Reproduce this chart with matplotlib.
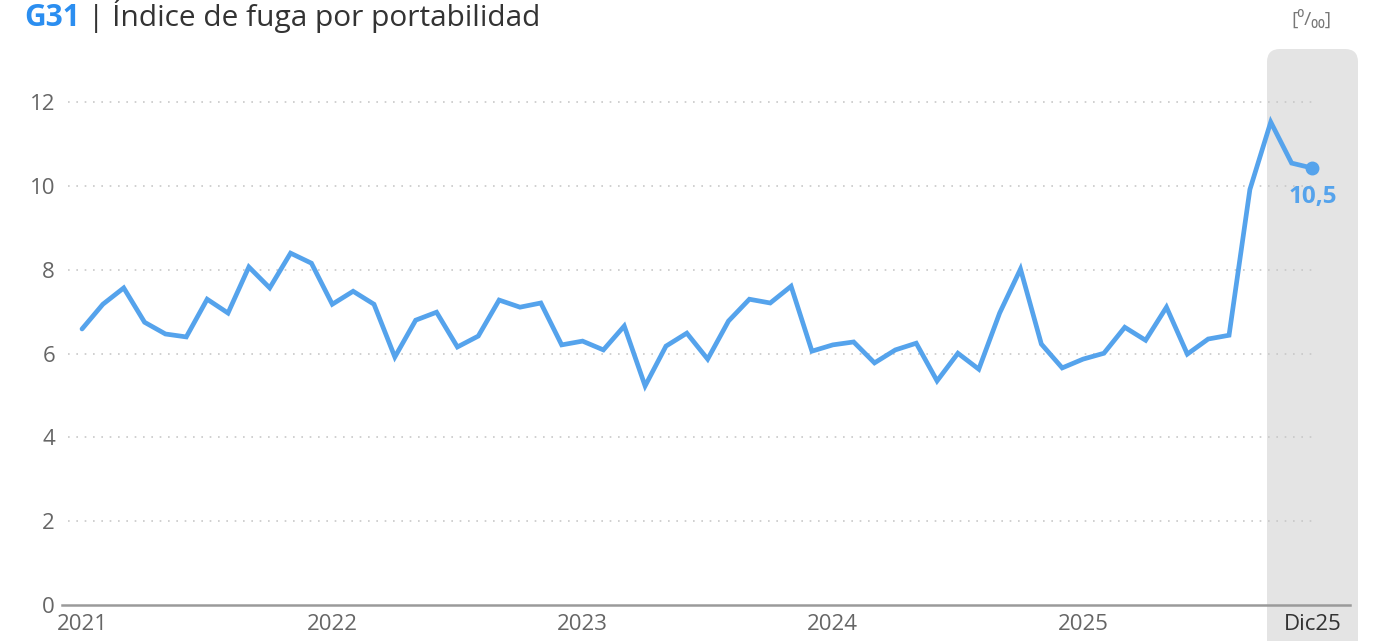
import matplotlib
matplotlib.use("Agg")
import matplotlib.pyplot as plt
from matplotlib.patches import FancyBboxPatch
from matplotlib.transforms import IdentityTransform

# ---- data ----
values = [6.59, 7.18, 7.57, 6.75, 6.47, 6.40, 7.30, 6.97, 8.07, 7.57, 8.40, 8.16,
          7.18, 7.49, 7.18, 5.92, 6.80, 6.99, 6.16, 6.42, 7.28, 7.11, 7.21, 6.21,
          6.30, 6.09, 6.66, 5.23, 6.18, 6.49, 5.87, 6.78, 7.30, 7.21, 7.61, 6.06,
          6.21, 6.28, 5.78, 6.09, 6.25, 5.35, 6.01, 5.63, 6.97, 8.02, 6.23, 5.66,
          5.87, 6.01, 6.63, 6.32, 7.11, 5.99, 6.35, 6.44, 9.92, 11.53, 10.55, 10.43]
xtick_pos = [0, 12, 24, 36, 48, 59]
xtick_labels = ["2021", "2022", "2023", "2024", "2025", "Dic25"]
ytick_vals = [0, 2, 4, 6, 8, 10, 12]
last_label = "10,5"
title_code = "G31"
title_text = "| Índice de fuga por portabilidad"
unit_text = "[⁰/₀₀]"

W, H = 1376, 641
plt.rcParams['font.family'] = ['Open Sans', 'DejaVu Sans']
fig = plt.figure(figsize=(W / 100, H / 100), dpi=100)
fig.patch.set_facecolor("white")

# axes placement (pixels)
ax_l, ax_r, ax_b, ax_t = 62, 1350, 605, 50
ax = fig.add_axes([ax_l / W, (H - ax_b) / H, (ax_r - ax_l) / W, (ax_b - ax_t) / H])
ax.set_facecolor("none")

x = list(range(len(values)))
ax.set_xlim(-0.96, 60.8)
ax.set_ylim(0, 13.25)

# shaded highlight panel (pixel coords), drawn behind the data
panel = FancyBboxPatch((1267, -20), 91, (H - 49) + 20,
                       boxstyle="round,pad=0,rounding_size=13",
                       transform=IdentityTransform(), facecolor="#E4E4E4",
                       edgecolor="none", zorder=0, clip_on=False)
ax.add_artist(panel)

# gridlines
for yv in ytick_vals[1:]:
    ax.hlines(yv, -0.67, 59.2, colors="#C8C8C8", linestyles=(0, (1, 4)),
              linewidth=1.2, zorder=1)

color = "#55A3EC"
ax.plot(x, values, color=color, linewidth=3.4, solid_joinstyle="miter",
        solid_capstyle="round", zorder=3)
ax.plot([x[-1]], [values[-1]], marker="o", markersize=9, color=color, zorder=4)
ax.annotate(last_label, (x[-1], values[-1]), xytext=(0, -29),
            textcoords="offset pixels",
            ha="center", va="center", fontsize=17.5, fontweight="bold", color=color)

# spines
for s in ["top", "right", "left"]:
    ax.spines[s].set_visible(False)
ax.spines["bottom"].set_color("#9A9A9A")
ax.spines["bottom"].set_linewidth(1.8)
ax.spines["bottom"].set_zorder(2)

ax.set_yticks(ytick_vals)
ax.set_yticklabels([str(v) for v in ytick_vals])
ax.tick_params(axis="y", length=0, pad=5, labelsize=16, labelcolor="#666666")
ax.set_xticks(xtick_pos)
ax.set_xticklabels(xtick_labels)
ax.tick_params(axis="x", length=0, pad=6.5, labelsize=16, labelcolor="#666666")
ax.get_xticklabels()[-1].set_color("#333333")

# title
fig.text(24 / W, 1 - 26 / H, title_code, fontsize=21.5, fontweight="bold",
         color="#2B8EF0", va="baseline", ha="left")
fig.text(88 / W, 1 - 26 / H, title_text, fontsize=21.5, color="#333333",
         va="baseline", ha="left")
fig.text(1311 / W, 1 - 25 / H, unit_text, fontsize=14, color="#777777",
         va="baseline", ha="center")

fig.savefig("out.png", dpi=100, facecolor="white")
